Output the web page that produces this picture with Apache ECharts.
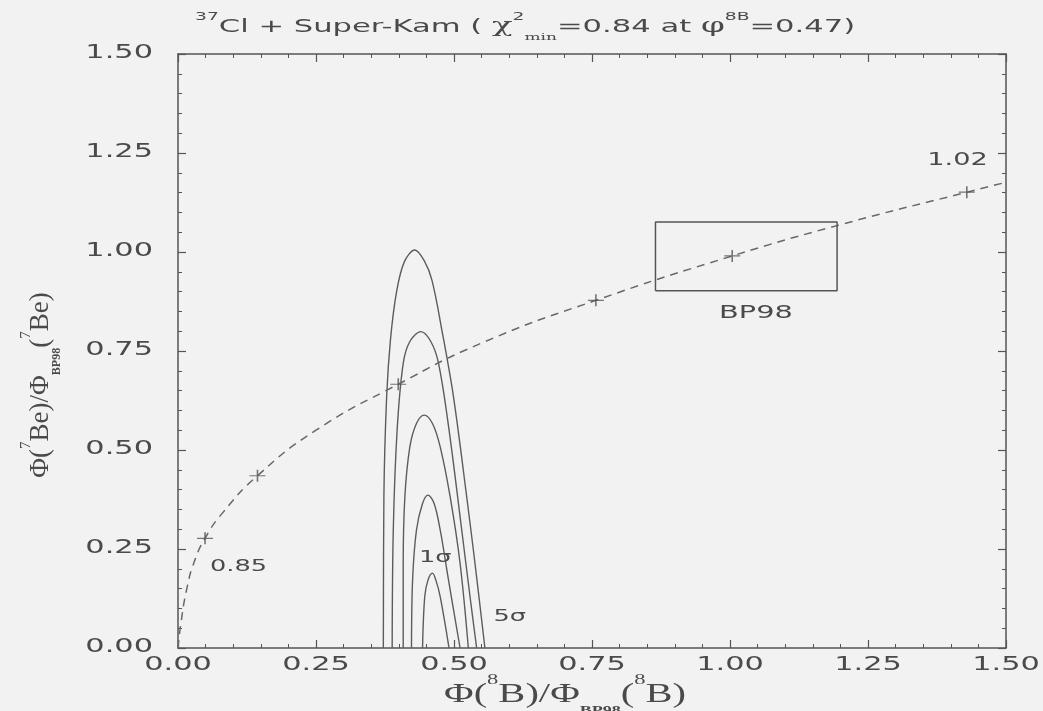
<!DOCTYPE html>
<html>
<head>
<meta charset="utf-8">
<script src="https://cdn.jsdelivr.net/npm/echarts@6/dist/echarts.min.js"></script>
<style>
  html, body { margin: 0; padding: 0; background: #f2f2f2; }
  #chart { width: 1043px; height: 711px; }
</style>
</head>
<body>
<div id="chart"></div>
<script>
// Chi-square contours (1σ … 5σ) in the (8B flux, 7Be flux) plane, both relative to BP98
const sigma1 = [[0.443,0],[0.447,0.130],[0.453,0.172],[0.461,0.189],[0.467,0.172],[0.475,0.130],[0.491,0]];
const sigma2 = [[0.423,0],[0.425,0.172],[0.432,0.298],[0.443,0.365],[0.453,0.386],[0.464,0.365],[0.475,0.298],[0.490,0.172],[0.511,0]];
const sigma3 = [[0.408,0],[0.408,0.214],[0.411,0.382],[0.420,0.508],[0.432,0.567],[0.446,0.588],[0.461,0.567],[0.475,0.508],[0.493,0.382],[0.511,0.214],[0.526,0]];
const sigma4 = [[0.388,0],[0.390,0.298],[0.397,0.551],[0.408,0.719],[0.420,0.774],[0.440,0.799],[0.458,0.774],[0.472,0.719],[0.491,0.551],[0.514,0.298],[0.529,0.130],[0.541,0]];
const sigma5 = [[0.372,0],[0.373,0.382],[0.378,0.635],[0.385,0.78],[0.396,0.90],[0.410,0.975],[0.429,1.005],[0.446,0.978],[0.460,0.929],[0.478,0.803],[0.499,0.635],[0.523,0.382],[0.538,0.214],[0.556,0]];

// Solar-model flux track (dashed) and the model points marked along it
const modelTrack = [[0,0],[0.005,0.06],[0.016,0.15],[0.030,0.22],[0.049,0.277],[0.08,0.34],[0.144,0.435],[0.25,0.55],[0.399,0.666],[0.55,0.770],[0.757,0.878],[1.004,0.990],[1.2,1.069],[1.429,1.151],[1.5,1.176]];
const modelPoints = [[0.049,0.277],[0.144,0.435],[0.399,0.666],[0.757,0.878],[1.004,0.990],[1.429,1.151]];

// BP98 uncertainty box
const bp98X = [0.865, 1.194];
const bp98Y = [0.902, 1.076];

// Axis tick labels
const xTickLabels = ['0.00', '0.25', '0.50', '0.75', '1.00', '1.25', '1.50'];
const yTickLabels = ['0.00', '0.25', '0.50', '0.75', '1.00', '1.25', '1.50'];

const ink = '#555';
const textInk = '#4a4a4a';
const axisLine = { show: true, onZero: false, lineStyle: { color: ink, width: 1.5 } };
const tick = { show: true, inside: true, length: 8, lineStyle: { color: ink, width: 1.2 } };
const minor = { show: true, splitNumber: 5, length: 4, lineStyle: { color: ink, width: 1 } };
const frameAxis = (position) => ({
  type: 'value', min: 0, max: 1.5, interval: 0.25, position,
  axisLine, axisTick: tick, minorTick: minor, splitLine: { show: false },
  axisLabel: { show: false }
});

const boxPath = [[bp98X[0],bp98Y[0]],[bp98X[1],bp98Y[0]],[bp98X[1],bp98Y[1]],[bp98X[0],bp98Y[1]],[bp98X[0],bp98Y[0]]];

function contour(data) {
  return {
    type: 'line', data, smooth: 0.35, showSymbol: false, silent: true,
    lineStyle: { color: '#5c5c5c', width: 1.4 }, z: 3
  };
}

const chart = echarts.init(document.getElementById('chart'));
chart.setOption({
  backgroundColor: '#f2f2f2',
  animation: false,
  grid: { left: 178, top: 54, width: 828, height: 594 },
  xAxis: [frameAxis('bottom'), frameAxis('top')],
  yAxis: [frameAxis('left'), frameAxis('right')],
  series: [
    contour(sigma5), contour(sigma4), contour(sigma3), contour(sigma2), contour(sigma1),
    {
      type: 'line', data: modelTrack, smooth: 0.5, showSymbol: false, silent: true,
      lineStyle: { color: '#686868', width: 1.5, type: [8, 6] }, z: 4
    },
    {
      type: 'scatter', data: modelPoints, silent: true, z: 5,
      symbol: 'path://M0 6 L16 6 M8 0 L8 12', symbolSize: [16, 12],
      itemStyle: { color: 'none', borderColor: '#555', borderWidth: 1.4 }
    },
    {
      type: 'line', data: boxPath, showSymbol: false, silent: true,
      lineStyle: { color: '#555', width: 1.5 }, z: 4
    }
  ]
});

// Wide lettering: text is laid out with the axes' own pixel mapping and stretched horizontally
const sans = 'DejaVu Sans';
const serif = 'Liberation Serif';
const stretch = 1.6;

function label(text, x, y, size, align, extra) {
  return Object.assign({
    type: 'text', x, y, scaleX: stretch, silent: true, z: 10,
    style: {
      text, fontFamily: sans, fontSize: size, fill: textInk,
      align, verticalAlign: 'middle', textAlign: align, textVerticalAlign: 'middle'
    }
  }, extra || {});
}

const graphics = [];
xTickLabels.forEach(t => {
  graphics.push(label(t, chart.convertToPixel({ xAxisIndex: 0 }, parseFloat(t)), 665, 19, 'center'));
});
yTickLabels.forEach(t => {
  graphics.push(label(t, 153, chart.convertToPixel({ yAxisIndex: 0 }, parseFloat(t)) - 1, 19, 'right'));
});

// In-plot annotations anchored to data coordinates
const notes = [
  { text: '0.85', at: [0.058, 0.205], size: 16, align: 'left' },
  { text: '1.02', at: [1.467, 1.232], size: 17, align: 'right' },
  { text: 'BP98', at: [1.047, 0.846], size: 18, align: 'center' },
  { text: '1σ',   at: [0.466, 0.227], size: 16, align: 'center' },
  { text: '5σ',   at: [0.601, 0.078], size: 16, align: 'center' }
];
notes.forEach(n => {
  const p = chart.convertToPixel({ gridIndex: 0 }, n.at);
  graphics.push(label(n.text, p[0], p[1], n.size, n.align));
});

// Title
graphics.push({
  type: 'text', x: 195, y: 27, scaleX: 1.7, silent: true, z: 10,
  style: {
    text: '{s|37}{t|Cl + Super-Kam ( }{c|χ}{s|2}{b|min}{t|=0.84 at }{c|φ}{s|8B}{t|=0.47)}',
    align: 'left', verticalAlign: 'middle', textAlign: 'left', textVerticalAlign: 'middle',
    rich: {
      t: { fontFamily: sans, fontSize: 18, fill: textInk, lineHeight: 30 },
      c: { fontFamily: 'DejaVu Serif', fontSize: 20, fill: textInk, lineHeight: 30 },
      s: { fontFamily: sans, fontSize: 11, fill: textInk, lineHeight: 11, verticalAlign: 'top' },
      b: { fontFamily: 'DejaVu Serif', fontSize: 10, fill: textInk, lineHeight: 10, verticalAlign: 'bottom' }
    }
  }
});

// Axis titles (serif, with BP98 subscript and mass-number superscripts)
const nameRich = {
  t: { fontFamily: serif, fontSize: 27, fill: textInk, lineHeight: 44 },
  s: { fontFamily: serif, fontSize: 15, fill: textInk, lineHeight: 15, verticalAlign: 'top' },
  b: { fontFamily: serif, fontSize: 12, fontWeight: 'bold', fill: textInk, lineHeight: 13, verticalAlign: 'bottom' }
};
graphics.push({
  type: 'text', x: 565, y: 695, scaleX: 1.5, silent: true, z: 10,
  style: {
    text: '{t|Φ(}{s|8}{t|B)/Φ}{b|BP98}{t|(}{s|8}{t|B)}',
    align: 'center', verticalAlign: 'middle', textAlign: 'center', textVerticalAlign: 'middle',
    rich: nameRich
  }
});
graphics.push({
  type: 'text', x: 41, y: 385, rotation: Math.PI / 2, silent: true, z: 10,
  style: {
    text: '{t|Φ(}{s|7}{t|Be)/Φ}{b|BP98}{t|(}{s|7}{t|Be)}',
    align: 'center', verticalAlign: 'middle', textAlign: 'center', textVerticalAlign: 'middle',
    rich: nameRich
  }
});

chart.setOption({ graphic: { elements: graphics } });
</script>
</body>
</html>
